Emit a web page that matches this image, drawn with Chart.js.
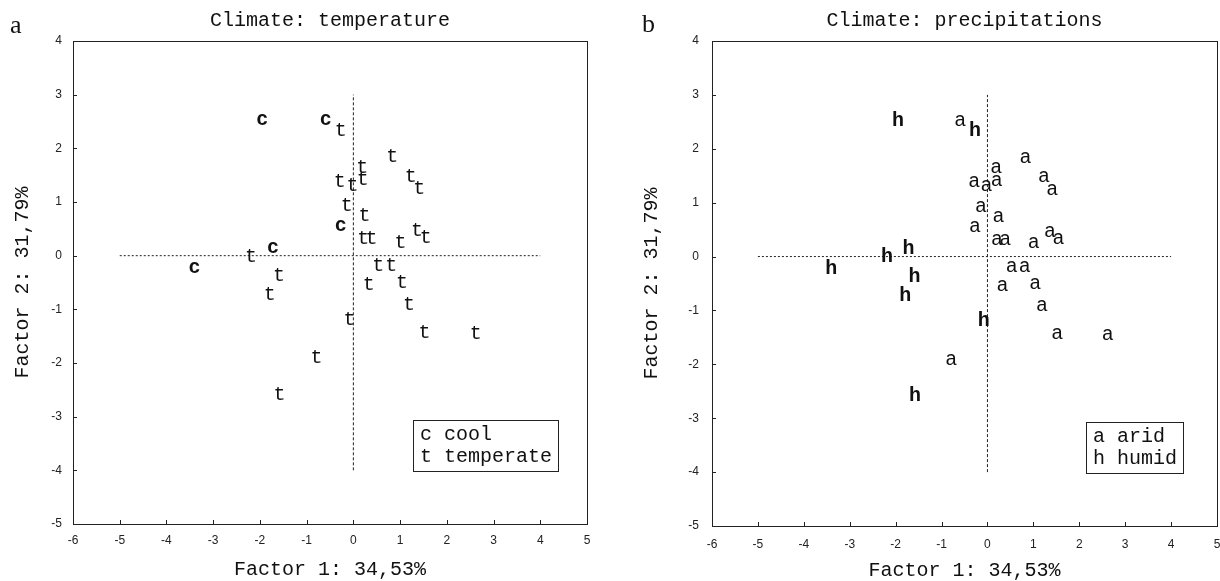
<!DOCTYPE html>
<html>
<head>
<meta charset="utf-8">
<script src="https://cdn.jsdelivr.net/npm/chart.js@4/dist/chart.umd.min.js"></script>
<style>
  html, body { margin: 0; padding: 0; background: #fff; }
  body { width: 1220px; height: 581px; position: relative; overflow: hidden; }
  .panel { position: absolute; top: 0; height: 581px; }
  #panelA { left: 0; width: 610px; }
  #panelB { left: 610px; width: 630px; }
  .tag { position: absolute; font-family: "Liberation Serif", "DejaVu Serif", serif; font-size: 26px; line-height: 1; color: #111; }
</style>
</head>
<body>
<div class="panel" id="panelA"><canvas id="tempChart" width="610" height="581"></canvas></div>
<div class="panel" id="panelB"><canvas id="precipChart" width="630" height="581"></canvas></div>
<div class="tag" style="left:10px; top:12px;">a</div>
<div class="tag" style="left:642px; top:11px;">b</div>
<script>
// factor scores of the 33 sites
const factor1 = [-1.95, -0.59, -0.27, 0.83, 0.19, -0.29, -0.02, 0.20, 1.23, 1.41,
                 -0.14, 0.24, -0.27, 0.21, 0.39, 1.01, 1.36, 1.55, -1.72, -2.19,
                 -3.40, -1.59, 0.53, 0.81, 0.33, 1.04, -1.79, 1.19, -0.08, 1.52,
                 2.62, -0.79, -1.58];
const factor2 = [2.52, 2.52, 2.33, 1.84, 1.64, 1.38, 1.31, 1.41, 1.48, 1.24,
                 0.93, 0.74, 0.55, 0.31, 0.31, 0.25, 0.47, 0.34, 0.14, -0.01,
                 -0.23, -0.37, -0.18, -0.19, -0.55, -0.50, -0.73, -0.91, -1.20, -1.43,
                 -1.45, -1.91, -2.59];
const temperature = ['c', 'c', 't', 't', 't', 't', 't', 't', 't', 't',
                     't', 't', 'c', 't', 't', 't', 't', 't', 'c', 't',
                     'c', 't', 't', 't', 't', 't', 't', 't', 't', 't',
                     't', 't', 't'];
const precipitation = ['h', 'a', 'h', 'a', 'a', 'a', 'a', 'a', 'a', 'a',
                       'a', 'a', 'a', 'a', 'a', 'a', 'a', 'a', 'h', 'h',
                       'h', 'h', 'a', 'a', 'a', 'a', 'h', 'a', 'h', 'a',
                       'a', 'a', 'h'];
const tempLegend = ['c cool', 't temperate'];
const precipLegend = ['a arid', 'h humid'];
// dotted axes through the origin
const hLineX = [-5, 4];
const vLineY = [-4, 3];

const mono = '"Liberation Mono", "DejaVu Sans Mono", monospace';
const sans = '"Liberation Sans", Arial, sans-serif';

function pointsFor(classes, letter) {
    var pts = [];
    for (let i = 0; i < factor1.length; i++) {
        if (classes[i] === letter) pts.push({ x: factor1[i], y: factor2[i] });
    }
    return pts;
}

const framePlugin = {
    id: 'frame',
    beforeDatasetsDraw(chart) {
        const a = chart.chartArea, ctx = chart.ctx;
        ctx.save();
        ctx.strokeStyle = '#222';
        ctx.lineWidth = 1;
        ctx.strokeRect(Math.round(a.left) + 0.5, Math.round(a.top) + 0.5,
                       Math.round(a.right - a.left), Math.round(a.bottom - a.top));
        ctx.beginPath();
        chart.scales.x.ticks.forEach(function (t) {
            const px = Math.round(chart.scales.x.getPixelForValue(t.value)) + 0.5;
            ctx.moveTo(px, a.bottom);
            ctx.lineTo(px, a.bottom - 4);
        });
        chart.scales.y.ticks.forEach(function (t) {
            const py = Math.round(chart.scales.y.getPixelForValue(t.value)) + 0.5;
            ctx.moveTo(a.left, py);
            ctx.lineTo(a.left + 4, py);
        });
        ctx.stroke();
        ctx.restore();
    }
};

const letterPlugin = {
    id: 'letters',
    afterDatasetsDraw(chart) {
        const ctx = chart.ctx;
        ctx.save();
        ctx.textAlign = 'center';
        ctx.textBaseline = 'middle';
        ctx.fillStyle = '#111';
        chart.data.datasets.forEach(function (ds, i) {
            if (!ds.letter) return;
            ctx.font = (ds.bold ? 'bold ' : '') + '20px ' + mono;
            chart.getDatasetMeta(i).data.forEach(function (el) {
                ctx.fillText(ds.letter, el.x, el.y);
            });
        });
        ctx.restore();
    }
};

const panelTextPlugin = {
    id: 'panelText',
    afterDraw(chart, args, opts) {
        const a = chart.chartArea, ctx = chart.ctx;
        ctx.save();
        ctx.fillStyle = '#111';
        ctx.font = '20px ' + mono;
        ctx.textAlign = 'center';
        ctx.textBaseline = 'alphabetic';
        ctx.fillText(opts.title, (a.left + a.right) / 2, 26);

        // legend box
        ctx.textAlign = 'left';
        ctx.textBaseline = 'middle';
        var w = 0;
        opts.legend.forEach(function (l) { w = Math.max(w, ctx.measureText(l).width); });
        w = Math.round(w + 13);
        const h = 51;
        const x1 = Math.round(a.right - opts.legendRight - w);
        const y1 = Math.round(a.bottom - opts.legendBottom - h);
        ctx.fillStyle = '#fff';
        ctx.fillRect(x1, y1, w, h);
        ctx.strokeStyle = '#222';
        ctx.lineWidth = 1;
        ctx.strokeRect(x1 + 0.5, y1 + 0.5, w, h);
        ctx.fillStyle = '#111';
        opts.legend.forEach(function (l, i) {
            ctx.fillText(l, x1 + 7, y1 + 15 + i * 22);
        });
        ctx.restore();
    }
};

function makePanel(p) {
    const datasets = [
        {
            data: hLineX.map(function (x) { return { x: x, y: 0 }; }),
            showLine: true, pointRadius: 0, borderColor: '#222', borderWidth: 1, borderDash: [2, 2]
        },
        {
            data: vLineY.map(function (y) { return { x: 0, y: y }; }),
            showLine: true, pointRadius: 0, borderColor: '#222', borderWidth: 1, borderDash: [3, 2]
        }
    ];
    p.letters.forEach(function (letter) {
        datasets.push({
            data: pointsFor(p.classes, letter),
            letter: letter,
            bold: letter === p.bold,
            pointRadius: 0
        });
    });

    return new Chart(document.getElementById(p.canvas), {
        type: 'scatter',
        data: { datasets: datasets },
        options: {
            responsive: false,
            animation: false,
            layout: { padding: { left: 0, top: 41, right: p.padRight, bottom: 0 } },
            plugins: {
                legend: { display: false },
                tooltip: { enabled: false },
                panelText: { title: p.title, legend: p.legend, legendRight: p.legendRight, legendBottom: 53 }
            },
            scales: {
                x: {
                    type: 'linear', min: -6, max: 5,
                    ticks: { stepSize: 1, padding: p.xTickPad, color: '#222', font: { family: sans, size: 12 } },
                    grid: { display: false, drawTicks: false },
                    border: { display: false },
                    title: {
                        display: true, text: 'Factor 1: 34,53%', color: '#111',
                        font: { family: mono, size: 20, lineHeight: 1 },
                        padding: { top: 0, bottom: p.xTitlePad }
                    },
                    afterFit: function (scale) { scale.height = p.xHeight; }
                },
                y: {
                    type: 'linear', min: -5, max: 4,
                    ticks: { stepSize: 1, padding: p.yTickPad, color: '#222', font: { family: sans, size: 12 } },
                    grid: { display: false, drawTicks: false },
                    border: { display: false },
                    title: {
                        display: true, text: 'Factor 2: 31,79%', color: '#111',
                        font: { family: mono, size: 20, lineHeight: 1 },
                        padding: { top: p.yTitlePad, bottom: 0 }
                    },
                    afterFit: function (scale) { scale.width = p.yWidth; }
                }
            }
        },
        plugins: [framePlugin, letterPlugin, panelTextPlugin]
    });
}

const tempChart = makePanel({
    canvas: 'tempChart', classes: temperature, letters: ['t', 'c'], bold: 'c',
    title: 'Climate: temperature', legend: tempLegend,
    padRight: 23, yWidth: 73, xHeight: 57, yTickPad: 11, xTickPad: 9,
    yTitlePad: 13, xTitlePad: 1, legendRight: 29
});

const precipChart = makePanel({
    canvas: 'precipChart', classes: precipitation, letters: ['a', 'h'], bold: 'h',
    title: 'Climate: precipitations', legend: precipLegend,
    padRight: 23, yWidth: 102, xHeight: 55, yTickPad: 13, xTickPad: 11,
    yTitlePad: 32, xTitlePad: 0, legendRight: 34
});
</script>
</body>
</html>
